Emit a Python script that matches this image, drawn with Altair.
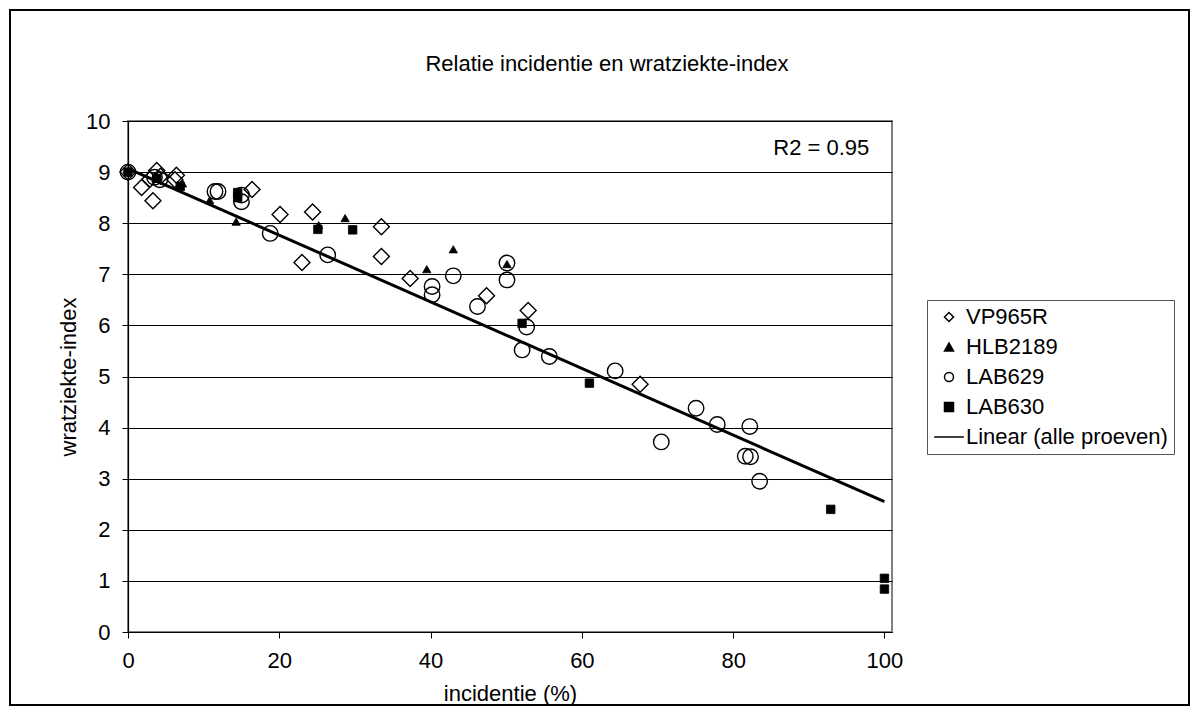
import altair as alt
import pandas as pd

FONT = "Liberation Sans"

series_names = ["VP965R", "HLB2189", "LAB629", "LAB630"]
trend_name = "Linear (alle proeven)"

# VP965R (open diamonds)
vp_x = [0, 1.8, 2.9, 3.3, 3.8, 4.3, 6.2, 6.4, 16.4, 20.1, 24.4, 23.0, 33.5, 33.5, 37.3, 47.4, 52.9, 67.7]
vp_y = [9.0, 8.70, 8.86, 8.44, 9.03, 8.92, 8.85, 8.94, 8.66, 8.17, 8.22, 7.23, 7.93, 7.35, 6.92, 6.58, 6.29, 4.85]

# HLB2189 (filled triangles)
hlb_x = [0, 3.8, 7.2, 10.8, 14.3, 25.2, 28.7, 39.5, 43.0, 50.1]
hlb_y = [9.0, 8.91, 8.78, 8.45, 8.03, 7.96, 8.10, 7.10, 7.49, 7.20]

# LAB629 (open circles)
l629_x = [0, 3.5, 4.2, 11.5, 11.9, 15.0, 15.0, 18.8, 26.4, 40.2, 40.2, 43.0, 46.2,
          50.1, 50.1, 52.1, 52.7, 55.7, 64.4, 70.5, 75.1, 77.9, 82.2, 81.6, 82.3, 83.5]
l629_y = [9.0, 8.90, 8.85, 8.62, 8.62, 8.55, 8.42, 7.80, 7.38, 6.76, 6.60, 6.97, 6.37,
          7.22, 6.89, 5.52, 5.97, 5.39, 5.11, 3.72, 4.38, 4.06, 4.02, 3.44, 3.43, 2.95]

# LAB630 (filled squares)
l630_x = [0, 3.8, 6.9, 14.5, 14.5, 25.1, 29.7, 52.1, 61.0, 92.9, 100, 100]
l630_y = [9.0, 8.88, 8.72, 8.60, 8.50, 7.88, 7.87, 6.04, 4.87, 2.40, 1.05, 0.84]

# Linear trend line (alle proeven), end points
trend_x = [0, 100]
trend_y = [9.07, 2.55]

r2_label = ["R2 = 0.95"]
r2_x = [98.0]
r2_y = [9.47]

x_ticks = [0, 20, 40, 60, 80, 100]
y_ticks = list(range(0, 11))

rows = []
for name, xs, ys in [("VP965R", vp_x, vp_y), ("HLB2189", hlb_x, hlb_y),
                     ("LAB629", l629_x, l629_y), ("LAB630", l630_x, l630_y)]:
    for a, b in zip(xs, ys):
        rows.append({"incidentie": a, "index": b, "serie": name})
df = pd.DataFrame(rows)
trend_df = pd.DataFrame({"incidentie": trend_x, "index": trend_y})
r2_df = pd.DataFrame({"x": r2_x, "y": r2_y, "label": r2_label})

legend_domain = series_names + [trend_name]
shape_range = ["diamond", "triangle-up", "circle", "square", "M-3.3,0H3.3"]
fill_range = ["transparent", "black", "transparent", "black", "transparent"]
stroke_range = ["black"] * 5

xscale = alt.Scale(domain=[0, 101], nice=False, zero=True)
yscale = alt.Scale(domain=[0, 10], nice=False)

xaxis = alt.Axis(title="incidentie (%)", values=x_ticks, grid=False, tickSize=6,
                 labelPadding=12, labelFlush=False, titleX=382, titleY=61,
                 titleBaseline="middle", titleAlign="center")
yaxis = alt.Axis(title="wratziekte-index", values=y_ticks, grid=True, gridColor="black",
                 gridWidth=1, tickSize=6, labelPadding=12, labelFlush=False,
                 titleX=-60, titleY=255.5, titleAngle=270, titleBaseline="middle",
                 titleAlign="center")

legend = alt.Legend(title=None, orient="none", legendX=799, legendY=179,
                    direction="vertical", labelFont=FONT, labelFontSize=22,
                    labelColor="black", symbolSize=81, symbolStrokeWidth=1.5,
                    labelOffset=6, padding=6, symbolOffset=5, rowPadding=8,
                    strokeColor="#555555", fillColor="white", labelLimit=400)

shape_enc = alt.Shape("serie:N", scale=alt.Scale(domain=legend_domain, range=shape_range), legend=legend)
fill_enc = alt.Fill("serie:N", scale=alt.Scale(domain=legend_domain, range=fill_range), legend=legend)
stroke_enc = alt.Stroke("serie:N", scale=alt.Scale(domain=legend_domain, range=stroke_range), legend=legend)

x_enc = alt.X("incidentie:Q", scale=xscale, axis=xaxis)
y_enc = alt.Y("index:Q", scale=yscale, axis=yaxis)

point_styles = {
    "VP965R": dict(size=256, strokeWidth=1.4),
    "HLB2189": dict(size=70, strokeWidth=0.8),
    "LAB629": dict(size=240, strokeWidth=1.4),
    "LAB630": dict(size=72, strokeWidth=0.8),
}

frame = alt.Chart(r2_df).mark_rect(fill="transparent", stroke="black", strokeWidth=2).encode(
    x=alt.value(-118), x2=alt.value(1061), y=alt.value(-111), y2=alt.value(584)
)

layers = [frame]
for name in series_names:
    st = point_styles[name]
    layers.append(
        alt.Chart(df)
        .transform_filter(alt.datum.serie == name)
        .mark_point(filled=True, opacity=1, **st)
        .encode(x=x_enc, y=y_enc, shape=shape_enc, fill=fill_enc, stroke=stroke_enc)
    )

trend = (
    alt.Chart(trend_df)
    .mark_line(color="black", strokeWidth=3)
    .encode(x=alt.X("incidentie:Q", scale=xscale), y=alt.Y("index:Q", scale=yscale))
)
layers.append(trend)

r2_text = alt.Chart(r2_df).mark_text(align="right", baseline="middle", font=FONT,
                                     fontSize=22, color="black").encode(
    x=alt.X("x:Q", scale=xscale), y=alt.Y("y:Q", scale=yscale), text="label:N"
)
layers.append(r2_text)

chart = (
    alt.layer(*layers)
    .properties(
        width=764,
        height=511,
        autosize=alt.AutoSizeParams(type="none"),
        padding={"left": 120, "top": 113, "right": 300, "bottom": 76},
        background="white",
        title=alt.TitleParams("Relatie incidentie en wratziekte-index", font=FONT,
                              fontSize=22, fontWeight="normal", color="black",
                              anchor="middle", frame="group", dx=97, offset=-77,
                              baseline="middle"),
    )
    .configure_view(stroke="#808080", strokeWidth=2)
    .configure_axis(domainColor="black", tickColor="black", labelColor="black",
                    labelFont=FONT, labelFontSize=22, titleFont=FONT, titleFontSize=22,
                    titleFontWeight="normal", titleColor="black", domainWidth=1.2)
)

chart.save("out.html", embed_options={"renderer": "svg", "actions": False})
